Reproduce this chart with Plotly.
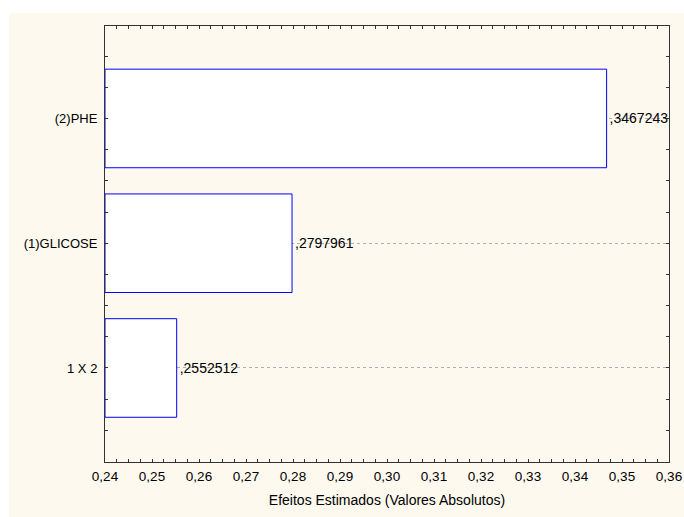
import plotly.graph_objects as go

# Data
factors = ["(2)PHE", "(1)GLICOSE", "1 X 2"]
effects = [0.3467243, 0.2797961, 0.2552512]
x_ticks = [0.24, 0.25, 0.26, 0.27, 0.28, 0.29, 0.30, 0.31, 0.32, 0.33, 0.34, 0.35, 0.36]
base_value = 0.24

n = len(factors)
ypos = [n - 1 - i for i in range(n)]
labels = [f"{v:.7f}".lstrip("0").replace(".", ",") for v in effects]

W, H = 684, 517
L, R, T, B = 105, 15, 26, 55
pw, ph = W - L - R, H - T - B

fig = go.Figure()
fig.add_trace(go.Bar(
    y=ypos,
    x=[v - base_value for v in effects],
    base=base_value,
    orientation="h",
    width=0.79,
    marker=dict(color="white", line=dict(color="#0000FF", width=1)),
    text=labels,
    textposition="outside",
    textfont=dict(family="Liberation Sans, Arial", size=14, color="black"),
    cliponaxis=False,
    hoverinfo="skip",
))

cream = "#FDF9EF"
fig.update_layout(
    width=W, height=H,
    autosize=False,
    margin=dict(l=L, r=R, t=T, b=B, autoexpand=False),
    paper_bgcolor="white",
    plot_bgcolor="white",
    separators=",.",
    showlegend=False,
    font=dict(family="Liberation Sans, Arial", size=13, color="black"),
    shapes=[
        dict(type="rect", xref="paper", yref="paper",
             x0=-(L - 9) / pw, x1=1 + R / pw,
             y0=-B / ph, y1=1 + (T - 13) / ph,
             fillcolor=cream, line=dict(width=0), layer="below"),
    ],
)

fig.update_xaxes(
    range=[x_ticks[0], x_ticks[-1]],
    tickvals=x_ticks,
    tickformat=".2f",
    ticks="inside", ticklen=3, tickcolor="#333333",
    minor=dict(dtick=0.0025, tick0=0.24, ticks="inside", ticklen=3, tickcolor="#333333"),
    showline=True, linecolor="#333333", linewidth=1, mirror="ticks",
    showgrid=False, zeroline=False, automargin=False,
    tickfont=dict(size=13.5),
    ticklabelstandoff=2,
    title=dict(text="Efeitos Estimados (Valores Absolutos)", font=dict(size=14), standoff=11),
)
fig.update_yaxes(
    range=[-0.7535, 2.741],
    tickvals=ypos,
    ticktext=factors,
    ticks="inside", ticklen=3, tickcolor="#333333",
    minor=dict(dtick=0.25, tick0=0, ticks="inside", ticklen=3, tickcolor="#333333"),
    showline=True, linecolor="#333333", linewidth=1, mirror="ticks",
    showgrid=True, gridcolor="#B0B0B0", griddash="dot", gridwidth=1,
    zeroline=False, automargin=False,
    tickfont=dict(size=13),
    ticklabelstandoff=4,
)

fig.write_html("out.html")
